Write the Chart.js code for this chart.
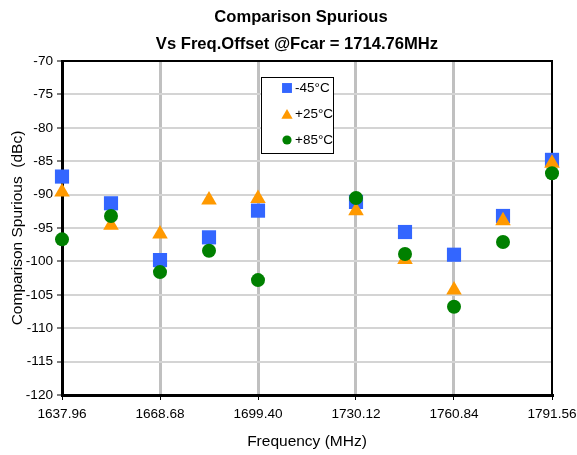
<!DOCTYPE html>
<html>
<head>
<meta charset="utf-8">
<script src="https://cdn.jsdelivr.net/npm/chart.js@4/dist/chart.umd.min.js"></script>
<style>
  body { margin: 0; background: #fff; }
</style>
</head>
<body>
<canvas id="chart" width="577" height="455"></canvas>
<script>
// Offset frequencies (MHz), no point at the carrier 1714.76
const freqs = [1637.96, 1653.32, 1668.68, 1684.04, 1699.40, 1730.12, 1745.48, 1760.84, 1776.20, 1791.56];

// Spurious level per temperature (dBc)
const minus45 = [-87.3, -91.3, -99.8, -96.4, -92.4, -91.1, -95.6, -99.0, -93.2, -84.8];
const plus25  = [-89.6, -94.6, -95.9, -90.8, -90.6, -92.4, -99.7, -104.3, -93.9, -85.3];
const plus85  = [-96.7, -93.2, -101.6, -98.4, -102.8, -90.5, -98.9, -106.8, -97.1, -86.8];

// Axis ticks
const xTicks = [1637.96, 1668.68, 1699.40, 1730.12, 1760.84, 1791.56];
const yMin = -120, yMax = -70, yStep = 5;

const titleLines = ["Comparison Spurious", "Vs Freq.Offset @Fcar = 1714.76MHz"];
const FONT = 'Arial, "Liberation Sans", sans-serif';

function toPoints(vals) {
  return vals.map((v, i) => ({ x: freqs[i], y: v }));
}

// title drawn above the plot
const titlePlugin = {
  id: 'twoLineTitle',
  afterDraw(chart) {
    const ctx = chart.ctx;
    ctx.save();
    ctx.font = 'bold 16.6px ' + FONT;
    ctx.fillStyle = '#000';
    ctx.textAlign = 'center';
    ctx.textBaseline = 'middle';
    ctx.fillText(titleLines[0], 301, 17);
    ctx.fillText(titleLines[1], 297, 44);
    ctx.restore();
  }
};

// top and right edges of the plot frame
const framePlugin = {
  id: 'frame',
  beforeDatasetsDraw(chart) {
    const { ctx, chartArea: a } = chart;
    ctx.save();
    ctx.strokeStyle = '#000';
    ctx.lineWidth = 2;
    ctx.beginPath();
    ctx.moveTo(a.left, a.top);
    ctx.lineTo(a.right, a.top);
    ctx.lineTo(a.right, a.bottom);
    ctx.stroke();
    ctx.restore();
  }
};

// boxed legend inside the plot
const legendPlugin = {
  id: 'boxLegend',
  afterDatasetsDraw(chart) {
    const { ctx, chartArea: a } = chart;
    const bx = a.left + 199, by = a.top + 16, bw = 72, bh = 76;
    ctx.save();
    ctx.fillStyle = '#fff';
    ctx.fillRect(bx, by, bw, bh);
    ctx.strokeStyle = '#000';
    ctx.lineWidth = 1;
    ctx.strokeRect(bx + 0.5, by + 0.5, bw, bh);
    const sizes = [7, 6.5, 4.6];
    chart.data.datasets.forEach((ds, i) => {
      const cy = by + 11 + i * 26;
      ctx.fillStyle = ds.backgroundColor;
      ctx.strokeStyle = ds.backgroundColor;
      Chart.helpers.drawPoint(ctx, { pointStyle: ds.pointStyle, radius: sizes[i], rotation: 0, borderWidth: 0 },
        bx + 26, ds.pointStyle === 'triangle' ? cy + 1.5 : cy);
      ctx.fillStyle = '#000';
      ctx.font = '13.5px ' + FONT;
      ctx.textAlign = 'left';
      ctx.textBaseline = 'middle';
      ctx.fillText(ds.label, bx + 34, cy);
    });
    ctx.restore();
  }
};

const ctx = document.getElementById('chart').getContext('2d');
new Chart(ctx, {
  type: 'scatter',
  data: {
    datasets: [
      { label: '-45°C', data: toPoints(minus45), pointStyle: 'rect', pointRadius: 10, order: 2,
        backgroundColor: '#3366FF', borderColor: '#3366FF', borderWidth: 0, clip: false },
      { label: '+25°C', data: toPoints(plus25), pointStyle: 'triangle', pointRadius: 9, order: 1,
        backgroundColor: '#FF9900', borderColor: '#FF9900', borderWidth: 0, clip: false },
      { label: '+85°C', data: toPoints(plus85), pointStyle: 'circle', pointRadius: 7, order: 0,
        backgroundColor: '#008000', borderColor: '#008000', borderWidth: 0, clip: false }
    ]
  },
  options: {
    responsive: false,
    animation: false,
    layout: { padding: { top: 61, right: 25, left: 0, bottom: 0 } },
    plugins: {
      legend: { display: false },
      title: { display: false },
      tooltip: { enabled: false }
    },
    elements: { point: { hoverRadius: 0 } },
    scales: {
      x: {
        type: 'linear',
        min: xTicks[0],
        max: xTicks[xTicks.length - 1],
        afterBuildTicks: scale => { scale.ticks = xTicks.map(v => ({ value: v })); },
        afterFit: scale => {
          scale.height = 60;
          scale.paddingLeft = 0;
          scale.paddingRight = 0;
        },
        ticks: {
          callback: v => Number(v).toFixed(2),
          color: '#000',
          font: { family: FONT, size: 13.6 },
          padding: 6,
          maxRotation: 0,
          autoSkip: false
        },
        grid: {
          color: c => (c.index === 0 || c.index === xTicks.length - 1) ? 'rgba(0,0,0,0)' : '#c0c0c0',
          lineWidth: 3,
          tickColor: '#000',
          tickLength: 5,
          tickWidth: 1
        },
        border: { color: '#000', width: 3 },
        title: {
          display: true,
          text: 'Frequency (MHz)',
          color: '#000',
          font: { family: FONT, size: 15.5 },
          padding: { top: 0, bottom: 4 }
        }
      },
      y: {
        min: yMin,
        max: yMax,
        afterFit: scale => {
          scale.width = 62;
          scale.paddingTop = 0;
          scale.paddingBottom = 0;
        },
        ticks: {
          stepSize: yStep,
          color: '#000',
          font: { family: FONT, size: 13.6 },
          padding: 4
        },
        grid: {
          color: '#d4d4d4',
          lineWidth: 2,
          tickColor: '#000',
          tickLength: 5,
          tickWidth: 1
        },
        border: { color: '#000', width: 3 },
        title: {
          display: true,
          text: 'Comparison Spurious  (dBc)',
          color: '#000',
          font: { family: FONT, size: 15.5 },
          padding: { top: 8, bottom: 0 }
        }
      }
    }
  },
  plugins: [titlePlugin, framePlugin, legendPlugin]
});
</script>
</body>
</html>
